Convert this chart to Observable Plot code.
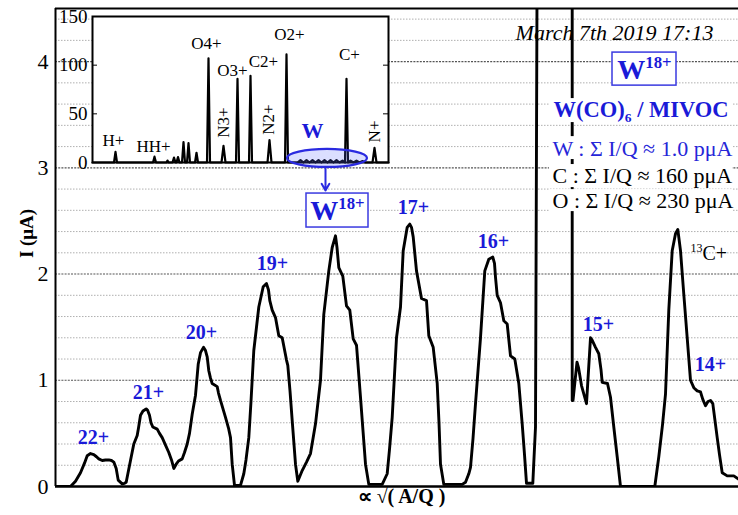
<!DOCTYPE html>
<html><head><meta charset="utf-8">
<script src="https://cdn.jsdelivr.net/npm/d3@7"></script>
<script src="https://cdn.jsdelivr.net/npm/@observablehq/plot@0.6"></script>
<style>
body{margin:0;background:#fff;}
#wrap{position:relative;width:738px;height:515px;overflow:hidden;background:#fff;}
#wrap svg{position:absolute;left:0;top:0;}
</style></head><body><div id="wrap"></div>
<script>
// ---- main spectrum (x: arbitrary ∝ sqrt(A/Q) units, y: current in µA) ----
const curveX = [55,70,75,80,84,86.7,90,93.3,96,98.3,101.7,105,108.3,111,113.3,115.7,117.7,121.7,124,125.7,128,130,133.3,136.7,138,140,142.5,145.7,147,149,150.5,152.3,156.7,159,161.7,165,168.3,171,173.3,175.7,178,181.7,184,186.7,189,191.7,195,197.7,200,203,205,206.7,208.3,210,211.7,216.7,218,220,225,228,230,231.7,234,240,243.3,245.5,248.3,250.5,253.3,258.3,262.7,266,268,269.3,271.7,275,278.3,281.7,286,287.3,289.5,291.7,295,297.3,301.7,306,310,315,320,323.3,328.3,331.7,335,336.5,338.3,342.3,346,349.3,352.7,356,360,365,368.3,381.7,386.7,389,391.7,396,400,402.7,406.7,409.3,411,412.7,416,421,426,428.3,432.7,436.7,438.5,440,443.3,461.7,465,468.3,470,472.5,475,480,484.3,488.3,492.3,494,495,496.7,500,503.3,506.7,510,514.3,518.3,521.7,524,526,532.3,535,538.5,571.7,571.7,572.5,576.5,578,581,586,590,591.5,595,598.3,600.5,601.7,607,610,613.3,616.7,620,654.3,658.3,662,665,668.3,671.7,675,677.3,680,683.3,686.7,690,693.3,696.7,700,702.3,705,707.5,710,712.3,714.5,716.7,719,721.7,726.7,733.3,738];
const curveY = [0,0,0.05,0.13,0.22,0.29,0.31,0.30,0.28,0.26,0.245,0.25,0.25,0.245,0.23,0.17,0.06,0.025,0.03,0.04,0.15,0.245,0.40,0.48,0.55,0.67,0.71,0.73,0.72,0.67,0.60,0.56,0.54,0.50,0.46,0.39,0.32,0.25,0.17,0.21,0.24,0.26,0.32,0.40,0.50,0.68,0.86,1.15,1.26,1.31,1.28,1.22,1.09,1.02,0.97,0.94,0.88,0.81,0.65,0.55,0.46,0.21,0.01,0.01,0.12,0.25,0.46,0.80,1.28,1.69,1.88,1.91,1.85,1.75,1.66,1.59,1.42,1.40,1.19,1.14,0.90,0.62,0.21,0.05,0.15,0.23,0.31,0.59,1.00,1.62,2.03,2.25,2.36,2.25,2.06,1.98,1.70,1.66,1.39,1.33,0.84,0.21,0.02,0.02,0.12,0.35,0.65,1.40,1.69,2.22,2.44,2.47,2.44,2.35,2.03,1.77,1.75,1.42,1.31,0.97,0.60,0.21,0.02,0.02,0.04,0.12,0.18,0.45,0.78,1.40,2.03,2.14,2.16,2.10,1.97,1.80,1.73,1.56,1.53,1.23,1.20,0.97,0.59,0.30,0.03,0.03,0.56,10,10,0.81,0.81,1.17,1.12,0.95,0.78,1.40,1.38,1.31,1.25,1.10,0.98,0.97,0.84,0.56,0.28,0,0,0.28,0.58,0.87,1.66,2.22,2.38,2.42,2.22,1.81,1.40,1.00,0.93,0.90,0.89,0.82,0.76,0.80,0.81,0.78,0.62,0.46,0.30,0.13,0.10,0.10,0.07];

// y tick values / grid lines
const yTicks = [0, 1, 2, 3, 4];
const gridMajor = [1, 2, 3, 4];
const gridMinor = [0.2,0.4,0.6,0.8,1.2,1.4,1.6,1.8,2.2,2.4,2.6,2.8,3.2,3.4,3.6,3.8,4.2,4.4];

// charge state labels
const peakLabels = ["22+","21+","20+","19+","17+","16+","15+","14+"];
const peakLabelX = [93,148,201,272,413,493,598,710];
const peakLabelY = [0.46,0.885,1.45,2.10,2.63,2.31,1.52,1.15];

// annotation boxes
const boxX1 = [306, 612];
const boxX2 = [368, 676];
const boxY1 = [2.438, 3.774];
const boxY2 = [2.758, 4.085];
const boxText = ["W^{18+}", "W^{18+}"];
const boxTextX = [337, 644];
const boxTextY = [2.59, 3.92];

// info texts
const dateText = ["March 7th 2019 17:13"];
const infoText = ["W(CO)_{6} / MIVOC", "W : Σ I/Q ≈ 1.0 pμA", "C : Σ I/Q ≈ 160 pμA", "O : Σ I/Q ≈ 230 pμA"];
const infoY = [3.55, 3.18, 2.92, 2.69];
const infoColor = ["#1a1ad8", "#2626d8", "black", "black"];
const infoWeight = ["bold", "normal", "normal", "normal"];
// background bands behind the info rows
const infoBgY1 = [3.426, 3.078, 2.814, 2.588];
const infoBgY2 = [3.652, 3.294, 3.031, 2.795];

// ---- inset spectrum (full spectrum, I in arbitrary units 0–150) ----
const insetX = [92,113.5,115,116.5,152.5,154,155.5,166,167,168,172,173.5,175,176,177.5,179,181.5,183,184.5,186.5,188,189.5,194.5,196,197.5,206.5,208,209.5,221,223,225,235.5,237,238.5,248.5,250,251.5,267,269,271,284.5,286,287.5,297,300,303,306,309,312,315,318,321,324,327,330,333,336,339,342,344.5,346,347.5,350,353,356,359,362,365,372,374,376,388];
const insetY = [0,0,11,0,0,6,0,0,2,0,0,5,0,0,5.5,0,0,21,0,0,20,0,0,10,0,0,107,0,0,17,0,0,86,0,0,89,0,0,23,0,0,111,0,0,2.5,0,2.5,0,2.5,0,2.5,0,2.5,0,2.5,0,2.5,0,2,0,86,0,2,0,2,0,1.5,0,0,15,0,0];
const insetTicks = [0, 50, 100, 150];
const insetLabels = ["H+","HH+","O4+","O3+","C2+","O2+","C+"];
const insetLabelX = [113,153,206,232,263,289,349];
const insetLabelY = [22.6,16.4,122.3,94.5,103.8,131.5,111];
const insetVLabels = ["N3+","N2+","N+"];
const insetVLabelX = [223,268,374];
const insetVLabelY = [41.1,44.2,31.9];
const ellipseX = [287, 367];
const ellipseY = [-5.1, 13.4];
const arrowX = [325];
const arrowY1 = [-5.0];
const arrowY2 = [-28.8];

const BLUE = "#1a1ad8";
const serif = "Liberation Serif";

const curve = curveX.map((x, i) => ({x, y: curveY[i]}));
const boxes = boxX1.map((x1, i) => ({x1, x2: boxX2[i], y1: boxY1[i], y2: boxY2[i], t: boxText[i], tx: boxTextX[i], ty: boxTextY[i]}));
const peaks = peakLabels.map((t, i) => ({t, x: peakLabelX[i], y: peakLabelY[i]}));
const info = infoText.map((t, i) => ({t, y: infoY[i], c: infoColor[i], w: infoWeight[i], b1: infoBgY1[i], b2: infoBgY2[i]}));

const main = Plot.plot({
  width: 738, height: 515,
  marginLeft: 55, marginRight: 0, marginTop: 8, marginBottom: 29,
  x: {domain: [55, 738], axis: null},
  y: {domain: [0, 4.5]},
  style: {fontFamily: serif, background: "white", color: "black"},
  marks: [
    Plot.ruleY(gridMinor, {stroke: "#b0b0b0", strokeDasharray: "1.5,1.5", strokeWidth: 1}),
    Plot.ruleY(gridMajor, {stroke: "#555", strokeDasharray: "2,1.2", strokeWidth: 1.1}),
    Plot.line(curve, {x: "x", y: "y", stroke: "black", strokeWidth: 2.9, strokeLinejoin: "round", clip: true}),
    Plot.ruleY([0], {stroke: "black", strokeWidth: 2.5}),
    Plot.ruleY([4.5], {stroke: "black", strokeWidth: 2}),
    Plot.ruleX([55], {stroke: "black", strokeWidth: 2}),
    Plot.axisY({ticks: yTicks, tickFormat: d => String(d), tickSize: 0, tickPadding: 7, fontSize: 22, label: null}),
    Plot.text(["I (μA)"], {y: () => 2.15, frameAnchor: "left", dx: -29, rotate: -90, text: d => d, fontSize: 19, fontWeight: "bold"}),
    Plot.text(["∝ √( A/Q )"], {x: () => 401, frameAnchor: "bottom", dy: 16, text: d => d, fontSize: 20, fontWeight: "bold"}),
    Plot.text(peaks, {x: "x", y: "y", text: "t", fill: BLUE, fontSize: 20, fontWeight: "bold"}),
    Plot.rect(boxes, {x1: "x1", x2: "x2", y1: "y1", y2: "y2", fill: "white", stroke: "#3a3ae0", strokeWidth: 1.5}),
    Plot.text(boxes, {x: "tx", y: "ty", text: "t", fill: BLUE, fontSize: 28, fontWeight: "bold"}),
    Plot.text(dateText, {x: () => 614, y: () => 4.27, text: d => d, fontSize: 22, fontStyle: "italic"}),
    Plot.rect(info, {x1: () => 549, x2: () => 732, y1: "b1", y2: "b2", fill: "white"}),
    Plot.text(info.filter(d => d.w === "bold"), {x: () => 553, y: "y", text: "t", fill: "c", fontSize: 22.5, fontWeight: "bold", textAnchor: "start"}),
    Plot.text(info.filter(d => d.w !== "bold"), {x: () => 552, y: "y", text: "t", fill: "c", fontSize: 22, textAnchor: "start"}),
    Plot.text(["^{13}C+"], {x: () => 690, y: () => 2.19, text: d => d, fontSize: 20, textAnchor: "start"})
  ]
});

function ellipseMark(index, scales) {
  const x = scales.x, y = scales.y;
  const e = document.createElementNS("http://www.w3.org/2000/svg", "ellipse");
  const cx = (x(ellipseX[0]) + x(ellipseX[1])) / 2;
  const cy = (y(ellipseY[0]) + y(ellipseY[1])) / 2;
  e.setAttribute("cx", cx);
  e.setAttribute("cy", cy);
  e.setAttribute("rx", Math.abs(x(ellipseX[1]) - x(ellipseX[0])) / 2);
  e.setAttribute("ry", Math.abs(y(ellipseY[1]) - y(ellipseY[0])) / 2);
  e.setAttribute("fill", "rgba(90,110,255,0.22)");
  e.setAttribute("stroke", "#2a2ae0");
  e.setAttribute("stroke-width", 2.2);
  return e;
}

const inset = insetX.map((x, i) => ({x, y: insetY[i]}));
const iLab = insetLabels.map((t, i) => ({t, x: insetLabelX[i], y: insetLabelY[i]}));
const iVLab = insetVLabels.map((t, i) => ({t, x: insetVLabelX[i], y: insetVLabelY[i]}));

const insetPlot = Plot.plot({
  width: 400, height: 240,
  marginLeft: 92, marginRight: 12, marginTop: 16, marginBottom: 78,
  x: {domain: [92, 388], axis: null},
  y: {domain: [0, 150]},
  style: {fontFamily: serif, background: "transparent", color: "black"},
  marks: [
    Plot.frame({fill: "white", stroke: "black", strokeWidth: 2}),
    Plot.ruleY([50, 100], {x1: () => 92, x2: () => 97, stroke: "black", strokeWidth: 1}),
    Plot.ruleY([50, 100], {x1: () => 383, x2: () => 388, stroke: "black", strokeWidth: 1}),
    Plot.line(inset, {x: "x", y: "y", stroke: "black", strokeWidth: 2.2, strokeLinejoin: "round"}),
    ellipseMark,
    Plot.arrow(arrowX, {x1: d => d, x2: d => d, y1: () => arrowY1[0], y2: () => arrowY2[0], stroke: "#2a2ae0", strokeWidth: 2, headLength: 9}),
    Plot.axisY({ticks: insetTicks, tickFormat: d => String(d), tickSize: 0, tickPadding: 5, fontSize: 19, label: null}),
    Plot.text(iLab, {x: "x", y: "y", text: "t", fontSize: 17}),
    Plot.text(iVLab, {x: "x", y: "y", text: "t", fontSize: 17, rotate: -90}),
    Plot.text(["W"], {x: () => 312, y: () => 31.9, text: d => d, fill: BLUE, fontSize: 22, fontWeight: "bold"})
  ]
});

// super/subscript markup -> tspans (text stays real text)
function rich(svg) {
  const NS = "http://www.w3.org/2000/svg";
  svg.querySelectorAll("text").forEach(t => {
    const s = t.textContent;
    if (!/[\^_]\{/.test(s)) return;
    t.textContent = "";
    const parts = s.split(/([\^_]\{[^}]*\})/).filter(p => p);
    let shift = 0;
    for (const p of parts) {
      const ts = document.createElementNS(NS, "tspan");
      let target = 0, small = false, txt = p;
      if (p[0] === "^") { target = -0.4; small = true; txt = p.slice(2, -1); }
      else if (p[0] === "_") { target = 0.22; small = true; txt = p.slice(2, -1); }
      const size = small ? 0.6 : 1;
      const d = (target - shift) / size;
      if (d) ts.setAttribute("dy", d.toFixed(3) + "em");
      if (small) ts.setAttribute("font-size", "60%");
      ts.textContent = txt;
      t.appendChild(ts);
      shift = target;
    }
  });
}
rich(main);
rich(insetPlot);

const wrap = document.getElementById("wrap");
wrap.appendChild(main);
wrap.appendChild(insetPlot);
</script>
</body></html>
